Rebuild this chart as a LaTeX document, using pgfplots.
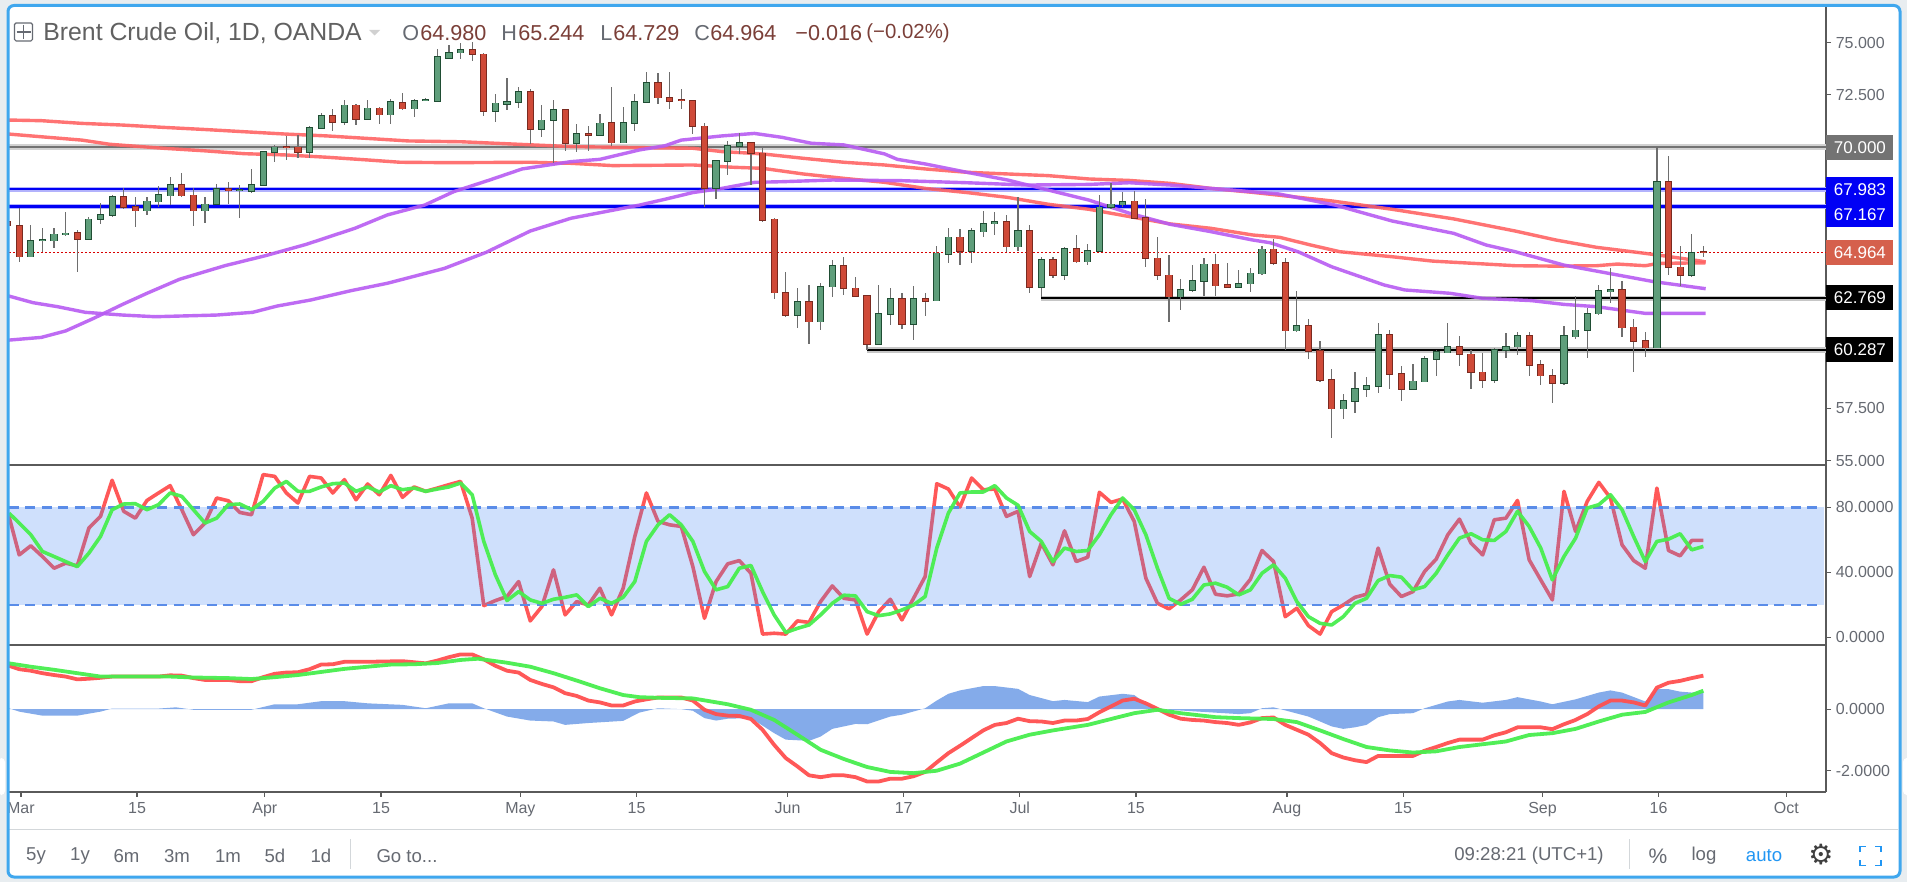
\documentclass[border=0pt]{standalone}
\usepackage{fontspec}
\setmainfont{Liberation Sans}
\newfontfamily\djv{DejaVu Sans}
\usepackage{pgfplots}
\usepackage{pgfplotstable}
\pgfplotsset{compat=1.18}
\definecolor{bgout}{HTML}{E8EDF0}
\definecolor{frameblue}{HTML}{3FA7EE}
\definecolor{axgray}{HTML}{5A5A5A}
\definecolor{lblgray}{HTML}{666A72}
\definecolor{valbrown}{HTML}{7B3F38}
\definecolor{gfill}{HTML}{5F9E7B}
\definecolor{gline}{HTML}{1F4D33}
\definecolor{rfill}{HTML}{CF4A38}
\definecolor{rline}{HTML}{7A2A20}
\definecolor{wick}{HTML}{6E6E6E}
\definecolor{mared}{HTML}{FF6464}
\definecolor{mapurple}{HTML}{B75CF2}
\definecolor{hblue}{HTML}{0000F5}
\definecolor{rsired}{HTML}{FF5050}
\definecolor{rsigreen}{HTML}{48EE4E}
\definecolor{bandblue}{HTML}{4285F4}
\definecolor{dashblue}{HTML}{5A8CE8}
\definecolor{histblue}{HTML}{84ABEA}
\definecolor{lbred}{HTML}{D5604C}
\definecolor{autoblue}{HTML}{2196F3}

% i  high  bodytop  bodybottom  low
\pgfplotstableread{
i H T B L
1 66.27 65.52 64.75 64.75
2 66.11 65.55 65.52 64.99
3 66.11 65.82 65.52 65.15
4 66.90 65.88 65.80 65.74
6 66.67 66.54 65.60 65.60
7 67.33 66.75 66.54 66.32
8 67.70 67.62 66.75 66.67
11 67.62 67.40 66.95 66.75
12 68.13 67.70 67.38 67.14
13 68.58 68.20 67.67 67.22
16 67.62 67.26 66.95 66.38
17 68.21 67.99 67.26 67.26
19 68.18 67.96 67.93 66.59
20 68.93 68.20 67.88 67.82
21 69.78 69.78 68.18 68.18
22 70.10 69.98 69.74 69.30
25 71.00 70.92 69.74 69.46
26 71.61 71.50 70.91 70.89
28 72.25 71.99 71.20 71.05
30 72.25 71.85 71.34 71.34
32 72.28 72.15 71.55 71.10
34 72.28 72.22 71.83 71.45
35 72.33 72.25 72.22 72.20
36 74.67 74.31 72.20 72.20
37 74.88 74.51 74.26 74.19
38 74.96 74.66 74.51 74.19
41 72.52 72.09 71.70 71.18
42 73.32 72.15 72.06 71.77
43 72.89 72.65 72.14 71.85
45 72.01 71.28 70.84 70.46
46 72.25 71.79 71.28 69.22
48 71.08 70.64 70.17 69.74
50 71.58 71.13 70.56 70.56
52 71.93 71.15 70.21 70.21
53 72.52 72.15 71.13 70.78
54 73.60 73.08 72.14 72.09
60 69.38 69.35 68.02 67.51
61 70.30 70.05 69.33 68.66
62 70.65 70.21 70.05 69.67
67 63.24 62.60 61.95 61.32
69 63.48 63.32 61.64 61.24
70 64.59 64.32 63.32 62.84
74 63.40 62.02 60.57 60.51
75 63.27 62.74 61.99 61.48
77 63.35 62.74 61.51 60.77
79 65.26 64.91 62.65 62.65
80 66.14 65.68 64.88 64.43
82 66.14 65.98 65.02 64.43
83 66.94 66.33 65.95 65.71
84 66.87 66.41 66.33 65.79
86 67.59 65.98 65.23 65.02
88 64.75 64.61 63.30 62.84
90 65.20 65.12 63.87 63.63
92 65.34 65.04 64.51 64.35
93 67.70 67.11 65.02 64.99
94 68.26 67.26 67.11 67.02
95 67.86 67.38 67.24 67.11
100 63.67 63.16 62.84 62.20
101 64.35 63.60 63.16 63.08
102 64.67 64.38 63.59 62.87
105 64.11 63.46 63.30 63.24
106 64.19 63.95 63.46 63.05
107 65.26 65.10 63.94 63.87
110 63.11 61.45 61.21 61.16
114 58.17 57.85 57.48 56.97
115 59.22 58.44 57.85 57.26
116 59.01 58.56 58.40 58.05
117 61.59 61.00 58.56 58.21
120 59.60 58.79 58.42 58.42
121 60.00 59.87 58.77 58.74
122 60.29 60.19 59.86 59.04
123 61.56 60.45 60.16 60.16
127 60.37 60.29 58.85 58.69
128 61.11 60.45 60.29 59.89
129 61.16 60.96 60.45 60.05
133 61.45 60.96 58.69 58.61
134 62.87 61.23 60.92 60.80
135 62.28 62.02 61.23 59.89
136 63.40 63.11 62.02 61.96
137 64.19 63.17 63.08 62.55
141 70.00 68.34 60.40 60.40
144 65.84 64.94 63.87 63.79
}\greencandles

\pgfplotstableread{
i H T B L
-1 66.51 66.43 66.24 66.19
0 67.07 66.24 64.75 64.51
5 66.03 65.88 65.60 64.03
9 68.02 67.62 67.11 67.02
10 67.62 67.14 66.95 66.16
14 68.74 68.20 67.67 67.59
15 68.02 67.69 66.95 66.22
18 68.34 67.99 67.93 67.27
23 70.53 70.00 69.98 69.38
24 70.57 69.98 69.74 69.46
27 71.80 71.50 71.20 70.75
29 72.06 71.99 71.34 71.04
31 71.93 71.85 71.55 71.10
33 72.60 72.12 71.83 71.77
39 75.04 74.66 74.43 74.11
40 74.51 74.43 71.70 71.48
44 72.76 72.65 70.84 70.14
47 71.80 71.79 70.17 69.82
49 71.00 70.64 70.56 69.82
51 72.89 71.15 70.21 70.05
55 73.52 73.08 72.36 72.04
56 73.60 72.36 72.20 71.83
57 72.76 72.25 72.22 71.83
58 72.22 72.22 70.99 70.61
59 71.16 70.99 68.02 67.14
63 70.22 70.21 69.70 68.18
64 69.94 69.70 66.51 66.43
65 66.59 66.55 63.03 62.71
66 64.03 63.03 61.95 61.88
68 63.40 62.60 61.64 60.56
71 64.75 64.32 63.24 62.92
72 63.76 63.24 62.87 62.87
73 62.92 62.89 60.57 60.29
76 63.03 62.74 61.51 61.27
78 63.03 62.74 62.63 61.91
81 66.06 65.68 65.01 64.35
85 66.75 66.41 65.23 64.96
87 66.27 65.98 63.30 63.00
89 64.72 64.61 63.87 63.72
91 65.77 65.12 64.51 64.43
96 67.89 67.40 66.60 66.60
97 67.50 66.60 64.67 64.27
98 65.71 64.67 63.87 63.63
99 64.83 63.87 62.84 61.64
103 64.86 64.38 63.36 62.87
104 64.43 63.40 63.30 63.24
108 65.60 65.10 64.43 64.35
109 64.70 64.46 61.21 60.29
111 61.75 61.45 60.24 59.84
112 60.73 60.24 58.85 58.77
113 59.38 58.85 57.48 56.06
118 61.24 61.00 59.14 58.40
119 59.54 59.14 58.42 57.85
124 60.96 60.45 60.08 59.54
125 60.29 60.08 59.22 58.40
126 60.16 59.22 58.85 58.48
130 61.16 60.96 59.57 59.06
131 59.81 59.57 59.06 58.61
132 59.39 59.06 58.71 57.77
138 63.60 63.17 61.36 60.92
139 61.75 61.37 60.72 59.25
140 61.16 60.73 60.40 59.97
142 69.58 68.34 64.24 63.87
143 65.26 64.24 63.87 63.35
145 65.244 64.98 64.964 64.729
}\redcandles

\pgfplotstableread{
i r g
-0.88 74.4 76.4
0 50.7 70.3
1 56.3 63.1
2 49.7 52.8
3 42.5 49.7
4 45.6 46.6
5 44.0 43.5
6 67.2 51.8
7 74.4 62.0
8 96.6 78.5
9 77.5 82.0
10 73.3 82.2
11 84.2 78.5
12 88.8 81.6
13 93.3 88.8
14 78.5 86.7
15 63.1 78.5
16 70.3 70.3
17 85.7 73.3
18 84.0 81.6
19 76.8 82.0
20 75.4 78.5
21 100.1 83.6
22 99.0 91.8
23 88.8 95.9
24 82.6 89.8
25 99.0 89.8
26 98.0 92.5
27 88.8 94.5
28 97.0 94.9
29 84.6 89.8
30 94.3 92.5
31 87.7 89.4
32 99.6 93.3
33 86.1 90.8
34 92.5 91.8
35 89.8 89.8
36 91.8 91.2
37 93.9 92.5
38 95.9 94.9
39 73.3 87.7
40 19.5 59.0
41 22.6 38.4
42 25.1 22.6
43 34.3 28.1
44 10.1 23.0
45 18.9 20.9
46 41.5 23.4
47 13.8 24.6
48 22.0 26.1
49 19.9 18.9
50 30.2 24.0
51 13.8 20.9
52 30.2 24.6
53 62.0 34.3
54 88.8 59.0
55 71.3 69.2
56 69.2 75.4
57 68.2 69.2
58 43.5 59.0
59 11.7 40.5
60 34.3 29.2
61 45.2 31.2
62 47.2 42.5
63 39.4 44.2
64 2.0 28.1
65 2.5 13.8
66 2.0 3.0
67 10.1 5.5
68 9.2 7.6
69 22.0 13.8
70 31.6 20.9
71 24.0 25.9
72 23.0 25.5
73 2.0 15.8
74 15.8 13.3
75 23.4 14.4
76 10.7 16.8
77 24.0 19.9
78 37.4 25.1
79 94.5 54.9
80 91.2 76.4
81 80.1 88.8
82 98.0 89.4
83 90.8 89.4
84 91.2 93.3
85 74.4 85.7
86 77.5 81.2
87 37.4 65.1
88 57.9 59.0
89 44.6 46.6
90 65.5 54.9
91 46.6 52.8
92 49.3 53.4
93 89.2 63.1
94 83.0 75.4
95 85.1 85.7
96 71.3 78.5
97 36.4 63.1
98 20.9 42.5
99 17.5 24.0
100 23.0 20.3
101 29.2 23.4
102 43.1 32.2
103 26.5 33.3
104 25.5 30.8
105 26.7 26.1
106 35.7 29.2
107 53.4 39.4
108 46.6 44.6
109 12.7 36.4
110 17.9 22.0
111 7.2 12.7
112 2.0 8.6
113 15.8 7.6
114 19.9 12.7
115 24.6 20.9
116 26.5 24.0
117 54.9 34.9
118 32.7 38.0
119 25.1 37.0
120 28.1 29.2
121 40.5 31.2
122 48.1 39.4
123 63.1 50.7
124 72.7 61.0
125 57.9 63.7
126 50.7 60.0
127 72.3 59.6
128 73.3 65.1
129 84.2 77.5
130 47.7 68.2
131 35.3 54.9
132 23.0 35.3
133 89.8 49.7
134 65.1 61.0
135 83.6 79.5
136 95.3 81.6
137 85.7 87.7
138 56.9 78.5
139 47.2 62.0
140 42.5 46.6
141 91.8 59.0
142 53.4 60.4
143 50.1 63.7
144 59.6 53.8
145 59.6 55.9
}\rsitable

\pgfplotsset{
  pane/.style={
    scale only axis, width=908.5pt,
    xmin=-0.878, xmax=155.56,
    axis x line*=bottom, axis y line*=right,
    axis line style={-, color=axgray, line width=0.7pt},
    tick style={color=axgray, line width=0.6pt},
    tick align=outside, major tick length=2.5pt,
    xtick=\empty,
    tick label style={font=\fontsize{8}{9}\selectfont, text=lblgray, inner sep=0pt},
    yticklabel style={anchor=west, xshift=2.2pt},
    every axis plot/.append style={forget plot},
    clip=true,
  },
  maline/.style={line width=1.7pt, color=#1, opacity=0.9, mark=none, line join=round},
  body/.style 2 args={draw=none, mark=none, error bars/.cd, y dir=both, y explicit, error mark=none,
     error bar style={draw=#1, line width=#2, solid}},
}

\begin{document}
\begin{tikzpicture}
\path[use as bounding box, fill=bgout] (0,0) rectangle (953.5pt,-441pt);
\begin{scope}[x=0.5pt,y=-0.5pt]
  \fill[white, rounded corners=3pt] (8,5) rectangle (1900,877);
\end{scope}

% ---------- price pane
\begin{axis}[pane, at={(4.5pt,-3.5pt)}, anchor=north west, height=229pt,
  ymin=54.785, ymax=76.699,
  ytick={55,57.5,72.5,75}, yticklabels={55.000,57.500,72.500,75.000}]
% horizontal levels
\addplot[color=gray!35, line width=2.6pt] coordinates {(-0.88,70)(155.56,70)};
\addplot[color=gray!90!black, line width=1.3pt] coordinates {(-0.88,70)(155.56,70)};
\addplot[color=hblue!30, line width=2.6pt] coordinates {(-0.88,67.983)(155.56,67.983)};
\addplot[color=hblue, line width=1.3pt] coordinates {(-0.88,67.983)(155.56,67.983)};
\addplot[color=hblue!30, line width=2.6pt] coordinates {(-0.88,67.167)(155.56,67.167)};
\addplot[color=hblue, line width=1.3pt] coordinates {(-0.88,67.167)(155.56,67.167)};
\addplot[color=gray!45, line width=2.6pt] coordinates {(88,62.769)(155.56,62.769)};
\addplot[color=black, line width=1.3pt] coordinates {(88,62.769)(155.56,62.769)};
\addplot[color=gray!45, line width=2.6pt] coordinates {(73,60.287)(155.56,60.287)};
\addplot[color=black, line width=1.3pt] coordinates {(73,60.287)(155.56,60.287)};
\addplot[color=red!85!black, line width=0.55pt, dash pattern=on 1pt off 1pt] coordinates {(-0.88,64.964)(155.56,64.964)};
% moving averages
\addplot[maline=mared] coordinates {(-0.9,71.29)(1.9,71.26)(5.4,71.13)(8.9,71.05)(12.4,70.94)(15.9,70.84)(19.4,70.73)(22.9,70.62)(26.5,70.53)(30,70.41)(33.5,70.29)(38.1,70.25)(43,70.13)(47.5,70.02)(53.4,69.97)(58,69.94)(60.5,69.78)(64,69.67)(67.5,69.46)(71,69.27)(74.5,69.14)(78,68.95)(81.6,68.79)(85.1,68.71)(88.6,68.63)(92.1,68.47)(95.6,68.40)(99.1,68.26)(102.6,68.02)(106.2,67.83)(107.7,67.74)(113,67.42)(118.2,67.02)(123.5,66.56)(128.8,65.98)(132.3,65.55)(135.8,65.20)(139.3,64.96)(141.1,64.83)(145.2,64.51)};
\addplot[maline=mared] coordinates {(-0.9,70.62)(1.9,70.49)(5.4,70.33)(7.8,70.13)(12.4,69.94)(15.9,69.82)(19.4,69.68)(22.9,69.62)(26.5,69.51)(30,69.38)(32.8,69.27)(37,69.25)(44,69.27)(47.5,69.22)(51.1,69.11)(58,69.14)(61.5,69.03)(64,68.98)(67.5,68.71)(71,68.50)(74.5,68.31)(78,68.02)(81.6,67.82)(85.1,67.59)(88.6,67.26)(92.1,67.02)(95.6,66.67)(99.1,66.32)(102.6,66.11)(106.2,65.79)(108.5,65.68)(111.2,65.31)(113.7,64.99)(118.2,64.75)(121.7,64.54)(125.3,64.43)(128.8,64.32)(132.3,64.30)(135.8,64.32)(137.6,64.40)(140,64.32)(141.1,64.43)(145.2,64.46)};
\addplot[maline=mapurple] coordinates {(-0.9,60.76)(1.9,60.89)(4,61.20)(6.4,61.80)(8.9,62.47)(11,63.00)(13.8,63.67)(17.7,64.32)(21.2,64.80)(24.7,65.34)(28.9,66.11)(31.7,66.75)(34.9,67.22)(37.4,67.86)(40.5,68.42)(43.3,68.95)(47.5,69.30)(50,69.41)(53.4,69.86)(55.6,70.06)(57,70.33)(60.5,70.53)(63.3,70.65)(65.7,70.46)(68.2,70.18)(71,70.10)(74.5,69.67)(75.6,69.41)(78,69.19)(81.6,68.79)(85.1,68.42)(88.6,67.94)(92.1,67.46)(95.6,66.83)(99.1,66.30)(102.6,65.95)(106.2,65.55)(107.7,65.42)(110.1,64.99)(113,64.27)(117.5,63.40)(119.3,63.16)(123.2,63.00)(126,62.76)(130.2,62.65)(133,62.47)(135.8,62.36)(140,62.04)(145.2,62.04)};
\addplot[maline=mapurple] coordinates {(-0.9,62.87)(1.2,62.55)(3.3,62.36)(5.7,62.09)(8.9,61.96)(11.7,61.88)(17,61.96)(20.1,62.09)(22.2,62.39)(25.1,62.68)(28.6,63.13)(31.7,63.48)(36.6,64.19)(40.2,64.96)(44,65.98)(47.5,66.59)(53.4,67.22)(55.6,67.50)(58,67.82)(60.5,68.02)(63.3,68.31)(65.7,68.34)(70,68.42)(75.9,68.39)(81.6,68.29)(86.8,68.18)(92.1,68.21)(95.6,68.29)(99.1,68.18)(102.6,68.02)(108.5,67.75)(113.3,67.22)(118.2,66.46)(123.5,65.87)(126.3,65.31)(128.8,64.99)(133,64.35)(136.9,63.95)(140.7,63.56)(145.2,63.22)};
% candles: wicks
\addplot[body={wick}{0.6pt}]
  table[x=i, y=T, y error plus expr=\thisrow{H}-\thisrow{T}, y error minus expr=\thisrow{T}-\thisrow{L}] {\greencandles};
\addplot[body={wick}{0.6pt}]
  table[x=i, y=T, y error plus expr=\thisrow{H}-\thisrow{T}, y error minus expr=\thisrow{T}-\thisrow{L}] {\redcandles};
% candles: bodies
\addplot[body={gline}{3.6pt}] table[x=i, y expr=(\thisrow{T}+\thisrow{B})/2, y error expr=(\thisrow{T}-\thisrow{B})/2+0.03] {\greencandles};
\addplot[body={gfill}{2.6pt}] table[x=i, y expr=(\thisrow{T}+\thisrow{B})/2, y error expr=(\thisrow{T}-\thisrow{B})/2] {\greencandles};
\addplot[body={rline}{3.6pt}] table[x=i, y expr=(\thisrow{T}+\thisrow{B})/2, y error expr=(\thisrow{T}-\thisrow{B})/2+0.03] {\redcandles};
\addplot[body={rfill}{2.6pt}] table[x=i, y expr=(\thisrow{T}+\thisrow{B})/2, y error expr=(\thisrow{T}-\thisrow{B})/2] {\redcandles};
\end{axis}

\begin{scope}[x=0.5pt,y=-0.5pt]
  \fill[white] (1827,466) rectangle (1897,646);
\end{scope}

% ---------- stochastic RSI pane
\begin{axis}[pane, at={(4.5pt,-232.5pt)}, anchor=north west, height=90pt,
  ymin=-4.73, ymax=106,
  ytick={0,40,80}, yticklabels={0.0000,40.0000,80.0000}]
\addplot[line width=1.8pt, color=rsired, opacity=.95, line join=round] table[x=i,y=r] {\rsitable};
\addplot[fill=bandblue, fill opacity=0.25, draw=none] coordinates {(-0.88,20)(155.4,20)(155.4,80)(-0.88,80)} -- cycle;
\addplot[color=dashblue, line width=1.25pt, dash pattern=on 5pt off 3.25pt] coordinates {(-0.88,80)(155,80)};
\addplot[color=dashblue, line width=1.25pt, dash pattern=on 5pt off 3.25pt] coordinates {(-0.88,20)(155,20)};
\addplot[line width=1.8pt, color=rsigreen, opacity=.95, line join=round] table[x=i,y=g] {\rsitable};
\end{axis}

\begin{scope}[x=0.5pt,y=-0.5pt]
  \fill[white] (1827,646) rectangle (1897,792);
\end{scope}

% ---------- MACD pane
\begin{axis}[pane, at={(4.5pt,-322.5pt)}, anchor=north west, height=73.5pt,
  ymin=-2.692, ymax=2.086,
  ytick={-2,0}, yticklabels={-2.0000,0.0000},
  xtick={0.15,10.15,21.15,31.15,43.15,53.15,66.15,76.15,86.15,96.15,109.15,119.15,131.15,141.15,152.15},
  xticklabels={Mar,15,Apr,15,May,15,Jun,17,Jul,15,Aug,15,Sep,16,Oct},
  xticklabel style={font=\fontsize{8}{9}\selectfont, yshift=-2.5pt}]
\addplot[fill=histblue, draw=none] coordinates {(-0.88,0.03)(0,-0.08)(2,-0.21)(5,-0.21)(7,-0.08)(8,0.02)(12,0.02)(13.5,0.06)(15,-0.02)(20,-0.02)(22,0.16)(24,0.16)(26,0.26)(28,0.26)(30,0.19)(33,0.14)(35,0.03)(37,0.19)(39,0.19)(40,0.03)(42,-0.24)(44,-0.37)(46,-0.40)(47,-0.51)(49,-0.45)(52,-0.38)(53.4,-0.11)(55,0.03)(57,0)(58,-0.05)(59,-0.29)(60,-0.37)(61,-0.31)(63,-0.29)(65,-0.78)(66,-0.99)(68,-1.03)(69,-0.89)(70,-0.64)(72,-0.48)(73,-0.49)(75,-0.24)(76,-0.18)(78,0.03)(79,0.28)(80,0.50)(81,0.61)(82,0.68)(83,0.75)(84,0.75)(86,0.66)(87,0.46)(89,0.26)(90,0.30)(92,0.23)(93,0.41)(95,0.50)(96,0.46)(97,0.19)(98,0.03)(99,-0.02)(105,-0.16)(106,-0.13)(107,0.03)(108,0.06)(109,-0.04)(111,-0.24)(113,-0.56)(114,-0.64)(115,-0.59)(116,-0.51)(117,-0.26)(118,-0.16)(120,-0.13)(121,0.03)(123,0.25)(124,0.30)(126,0.21)(128,0.30)(129,0.39)(131,0.25)(132,0.16)(134,0.32)(136,0.54)(137,0.61)(138,0.54)(140,0.25)(141,0.65)(142,0.65)(143,0.57)(144,0.54)(145,0.57)} \closedcycle;
\addplot[line width=1.9pt, color=rsired, opacity=.95, line join=round] coordinates {(-0.88,1.41)(0,1.30)(1,1.25)(2,1.17)(3,1.11)(4,1.06)(5,0.97)(6,0.99)(7,1.02)(8,1.06)(10,1.06)(12,1.06)(13,1.10)(14,1.09)(15,1.01)(16,0.95)(18,0.95)(19,0.91)(20,0.91)(21,1.04)(22,1.15)(23,1.19)(24,1.20)(25,1.30)(26,1.45)(27,1.46)(28,1.54)(30,1.54)(33,1.56)(35,1.49)(36,1.58)(37,1.69)(38,1.78)(39,1.78)(40,1.62)(41,1.41)(42,1.25)(43,1.19)(44,0.95)(45,0.82)(46,0.71)(47,0.52)(48,0.43)(49,0.28)(50,0.22)(51,0.12)(52,0.12)(53,0.25)(54,0.32)(55,0.38)(57,0.38)(58,0.28)(59,-0.02)(60,-0.16)(61,-0.21)(62,-0.22)(63,-0.32)(64,-0.67)(65,-1.16)(66,-1.59)(67,-1.86)(68,-2.15)(69,-2.21)(70,-2.15)(71,-2.15)(72,-2.21)(73,-2.35)(74,-2.35)(75,-2.26)(76,-2.26)(77,-2.18)(78,-2.04)(79,-1.73)(80,-1.43)(81,-1.19)(82,-0.94)(83,-0.69)(84,-0.51)(85,-0.45)(86,-0.31)(87,-0.39)(88,-0.40)(89,-0.45)(90,-0.37)(91,-0.37)(92,-0.32)(93,-0.10)(94,0.09)(95,0.28)(96,0.34)(97,0.19)(98,0.01)(99,-0.18)(100,-0.31)(101,-0.35)(102,-0.37)(103,-0.42)(104,-0.45)(105,-0.51)(106,-0.43)(107,-0.29)(108,-0.27)(109,-0.51)(110,-0.67)(111,-0.83)(112,-1.10)(113,-1.43)(114,-1.57)(115,-1.66)(116,-1.72)(117,-1.52)(120,-1.52)(121,-1.35)(122,-1.23)(123,-1.10)(124,-0.99)(126,-0.99)(127,-0.85)(128,-0.75)(129,-0.59)(131,-0.59)(132,-0.65)(133,-0.49)(134,-0.35)(135,-0.16)(136,0.09)(137,0.28)(138,0.28)(139,0.22)(140,0.12)(141,0.70)(142,0.86)(143,0.92)(144,1.01)(145,1.09)};
\addplot[line width=1.9pt, color=rsigreen, opacity=.95, line join=round] coordinates {(-0.88,1.49)(1,1.38)(3,1.28)(5,1.17)(7,1.06)(10,1.06)(13,1.06)(15,1.03)(18,1.01)(20,0.98)(22,1.04)(24,1.11)(26,1.21)(28,1.31)(30,1.38)(32,1.45)(34,1.46)(36,1.50)(38,1.60)(39.5,1.64)(42,1.51)(44,1.38)(46,1.17)(48,0.93)(50,0.68)(52,0.46)(53.4,0.39)(55,0.37)(58,0.35)(61,0.16)(63,-0.02)(65,-0.35)(67,-0.83)(69,-1.32)(71,-1.62)(73,-1.88)(75,-2.04)(77,-2.08)(79,-2.00)(81,-1.77)(83,-1.41)(85,-1.05)(87,-0.83)(89,-0.69)(92,-0.51)(94,-0.32)(96,-0.13)(98,-0.02)(100,-0.13)(103,-0.26)(105,-0.29)(108,-0.32)(110,-0.42)(112,-0.69)(114,-0.97)(116,-1.23)(118,-1.34)(120,-1.41)(122,-1.37)(124,-1.23)(126,-1.14)(128,-1.05)(130,-0.84)(132,-0.78)(134,-0.64)(136,-0.40)(138,-0.18)(140,-0.09)(142,0.22)(144,0.46)(145,0.60)};
\end{axis}

% ---------- overlay: price boxes, header, toolbar, frame
\begin{scope}[x=0.5pt,y=-0.5pt]
  \def\pricebox#1#2#3{\node[fill=#1, text=white, anchor=west, minimum width=33.5pt, minimum height=12.5pt, inner sep=0pt, font=\fontsize{8.5}{9}\selectfont] at (1826,#2) {#3};}
  \pricebox{black!55}{147.5}{70.000}
  \pricebox{hblue}{189.5}{67.983}
  \pricebox{hblue}{215}{67.167}
  \pricebox{lbred}{252.5}{64.964}
  \pricebox{black}{297.5}{62.769}
  \pricebox{black}{349.5}{60.287}

  % header
  \draw[lblgray, line width=0.6pt, rounded corners=0.8pt] (14.5,23) rectangle (32.5,41);
  \draw[lblgray, line width=0.6pt] (16.5,32) -- (30.5,32) (23.5,25) -- (23.5,39);
  \node[anchor=west, inner sep=0pt, text=black!62, font=\fontsize{12.4}{14}\selectfont] at (43,33) {Brent Crude Oil, 1D, OANDA};
  \fill[black!18] (369,30) -- (380,30) -- (374.5,35.5) -- cycle;
  \def\hdr#1#2#3{\node[anchor=west, inner sep=0pt, text=#2, font=\fontsize{10.8}{13}\selectfont] at (#1,33) {#3};}
  \hdr{402}{lblgray}{O}
  \hdr{420}{valbrown}{64.980}
  \hdr{501}{lblgray}{H}
  \hdr{518}{valbrown}{65.244}
  \hdr{600}{lblgray}{L}
  \hdr{613}{valbrown}{64.729}
  \hdr{694}{lblgray}{C}
  \hdr{710}{valbrown}{64.964}
  \hdr{795}{valbrown}{−0.016}
  \node[anchor=west, inner sep=0pt, text=valbrown, font=\fontsize{10.2}{13}\selectfont] at (866,33) {(−0.02\%)};

  % toolbar
  \draw[bgout!80!gray, line width=0.5pt] (9,829) -- (1898,829);
  \def\tb#1#2{\node[inner sep=0pt, text=lblgray, font=\fontsize{9.3}{11}\selectfont] at (#1,856) {#2};}
  \tb{36}{5y}\tb{80}{1y}\tb{126.5}{6m}\tb{177}{3m}\tb{228}{1m}\tb{275}{5d}\tb{321}{1d}
  \tb{407}{Go to...}
  \tb{1529}{09:28:21 (UTC+1)}
  \node[inner sep=0pt, text=lblgray, font=\fontsize{10.5}{12}\selectfont] at (1658,856) {\%};
  \tb{1704}{log}
  \node[inner sep=0pt, text=autoblue, font=\fontsize{9.3}{11}\selectfont] at (1764,856) {auto};
  \draw[bgout!80!gray, line width=0.5pt] (350.5,839) -- (350.5,869) (1629,839) -- (1629,869);
  \node[inner sep=0pt, text=black!75, font=\djv\fontsize{14}{15}\selectfont] at (1821,855) {⚙};
  \draw[autoblue, line width=0.9pt]
    (1860,852) -- (1860,846.5) -- (1866,846.5)
    (1875,846.5) -- (1881,846.5) -- (1881,852)
    (1881,860) -- (1881,865.5) -- (1875,865.5)
    (1866,865.5) -- (1860,865.5) -- (1860,860);

  % frame
  \draw[frameblue, line width=1.5pt, rounded corners=3pt] (8,5.5) rectangle (1900,877);
  \fill[white, rounded corners=2pt] (-2,758) rectangle (5,795);
  \fill[white, rounded corners=2pt] (1903,758) rectangle (1910,795);
\end{scope}
\end{tikzpicture}
\end{document}
